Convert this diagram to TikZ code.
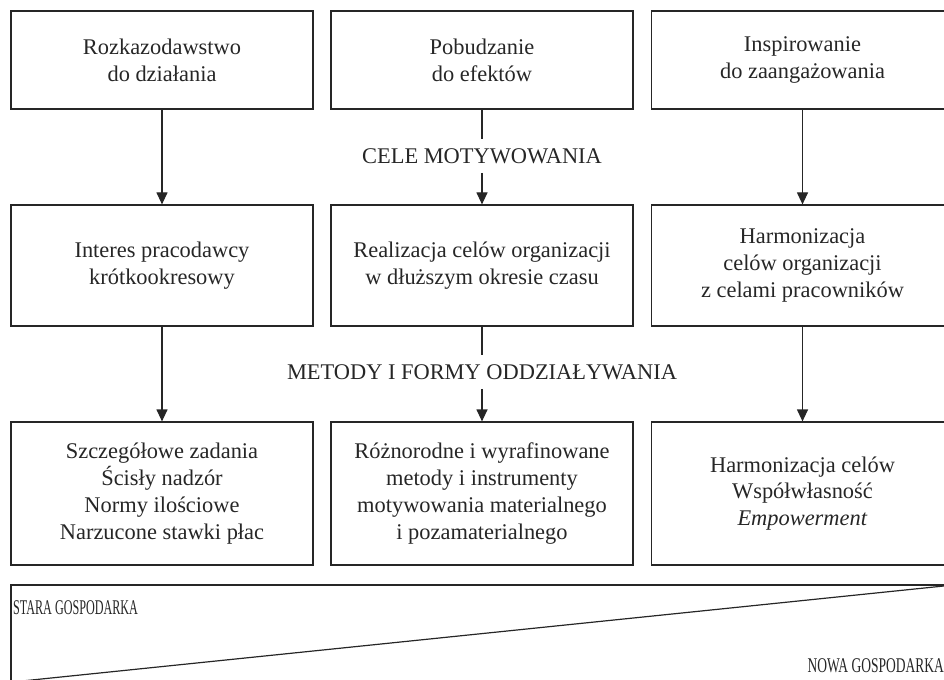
\documentclass[tikz,border=0pt]{standalone}
\usepackage{fontspec}
\setmainfont{Liberation Serif}
\usetikzlibrary{arrows.meta}

\begin{document}
\begin{tikzpicture}[x=1bp,y=-1bp,
        box/.style={draw=black!85, line width=1.2bp, align=center, text=black!85,
                    font=\fontsize{22.5}{27}\selectfont, inner sep=0pt, minimum width=302bp},
        arr/.style={draw=black!85, line width=1.2bp, -{Triangle[width=11bp,length=12bp]}},
        lab/.style={text=black!85, font=\fontsize{22.5}{27}\selectfont, inner xsep=2bp, inner ysep=9bp},
        eco/.style={text=black!85, font=\fontsize{21}{24}\selectfont, inner sep=0pt}]
        \useasboundingbox (0,0) rectangle (944,680);
        \clip (0,0) rectangle (944,680);

        % cele
        \node[box, minimum height=98bp] (r1a) at (162,60) {Rozkazodawstwo\\do działania};
        \node[box, minimum height=98bp] (r1b) at (482,60) {Pobudzanie\\do efektów};
        \node[box, minimum height=98bp] (r1c) at (802.5,60) {Inspirowanie\\do zaangażowania};

        \node[box, minimum height=121bp] (r2a) at (162,265.5) {Interes pracodawcy\\krótkookresowy};
        \node[box, minimum height=121bp] (r2b) at (482,265.5) {Realizacja celów organizacji\\w dłuższym okresie czasu};
        \node[box, minimum height=121bp] (r2c) at (802.5,265.5) {Harmonizacja\\celów organizacji\\z celami pracowników};

        % metody
        \node[box, minimum height=143bp] (r3a) at (162,493.5)
            {Szczegółowe zadania\\Ścisły nadzór\\Normy ilościowe\\Narzucone stawki płac};
        \node[box, minimum height=143bp] (r3b) at (482,493.5)
            {Różnorodne i wyrafinowane\\metody i instrumenty\\motywowania materialnego\\i pozamaterialnego};
        \node[box, minimum height=143bp] (r3c) at (802.5,493.5)
            {Harmonizacja celów\\Współwłasność\\\textit{Empowerment}};

        \node[lab] (cele) at (482,156) {CELE MOTYWOWANIA};
        \node[lab] (metody) at (482,372) {METODY I FORMY ODDZIAŁYWANIA};

        \draw[arr] (r1a.south) -- (r2a.north);
        \draw[arr] (r1c.south) -- (r2c.north);
        \draw[arr] (r2a.south) -- (r3a.north);
        \draw[arr] (r2c.south) -- (r3c.north);
        \draw[draw=black!85, line width=1.2bp] (r1b.south) -- (cele.north);
        \draw[arr] (cele.south) -- (r2b.north);
        \draw[draw=black!85, line width=1.2bp] (r2b.south) -- (metody.north);
        \draw[arr] (metody.south) -- (r3b.north);

        % gospodarka
        \coordinate (gl) at (11,585);
        \coordinate (gr) at (953.5,700);
        \coordinate (dl) at (22,681);
        \coordinate (dr) at (953.5,585);
        \draw[draw=black!85, line width=1.2bp] (gl) rectangle (gr);
        \draw[draw=black!85, line width=1.2bp] (dl) -- (dr);
        \node[eco, anchor=west] (stara) at (13,608) {\scalebox{0.58}[1]{STARA GOSPODARKA}};
        \node[eco, anchor=east] (nowa) at (944,666) {\scalebox{0.645}[1]{NOWA GOSPODARKA}};

    \end{tikzpicture}
\end{document}
